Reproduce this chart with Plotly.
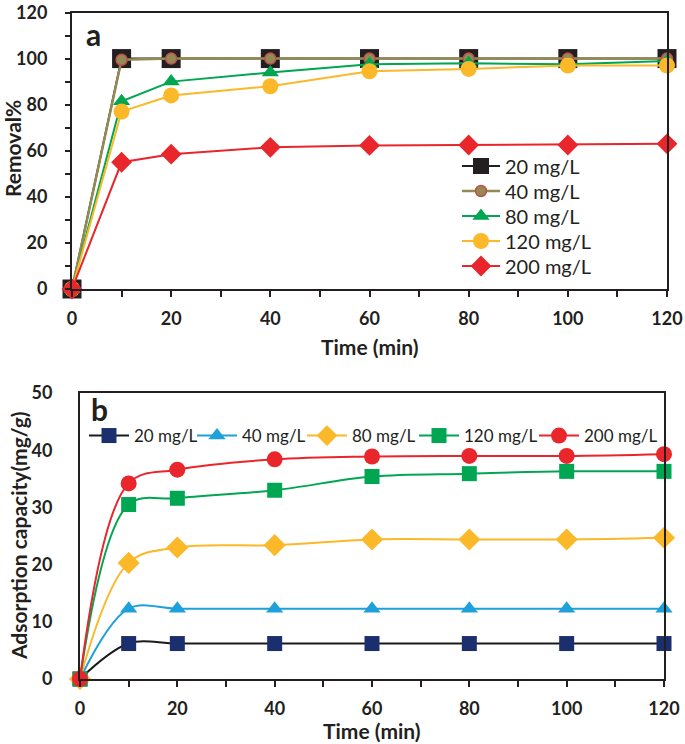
import plotly.graph_objects as go

time_min = [0, 10, 20, 40, 60, 80, 100, 120]

# Panel a: Removal %
removal_labels = ["20 mg/L", "40 mg/L", "80 mg/L", "120 mg/L", "200 mg/L"]
removal_20 = [0, 100, 100, 100, 100, 100, 100, 100]
removal_40 = [0, 99.5, 100, 100, 100, 100, 100, 100]
removal_80 = [0, 81.5, 90, 94, 97.5, 98, 97.5, 99]
removal_120 = [0, 77, 84, 88, 94.5, 95.5, 97, 97]
removal_200 = [0, 55, 58.5, 61.5, 62.3, 62.5, 62.5, 63]

# Panel b: Adsorption capacity (mg/g)
cap_labels = ["20 mg/L", "40 mg/L", "80 mg/L", "120 mg/L", "200 mg/L"]
cap_20 = [0, 6.2, 6.2, 6.2, 6.2, 6.2, 6.2, 6.2]
cap_40 = [0, 12.3, 12.3, 12.3, 12.3, 12.3, 12.3, 12.3]
cap_80 = [0, 20.3, 23.0, 23.4, 24.4, 24.4, 24.4, 24.7]
cap_120 = [0, 30.5, 31.6, 33.0, 35.4, 35.9, 36.3, 36.3]
cap_200 = [0, 34.2, 36.6, 38.4, 38.9, 39.0, 39.0, 39.3]

tick_vals_x = [0, 20, 40, 60, 80, 100, 120]
tick_vals_a = [0, 20, 40, 60, 80, 100, 120]
tick_vals_b = [0, 10, 20, 30, 40, 50]

FONT = "Lato, 'Open Sans', Arial, sans-serif"
INK = "#231f20"
W, H = 685, 744

fig = go.Figure()

# ---- panel a traces
styles_a = [
    dict(line=dict(color=INK, width=2),
         marker=dict(symbol="square", size=19, color=INK)),
    dict(line=dict(color="#948a54", width=2.5),
         marker=dict(symbol="circle", size=11, color="#948a54",
                     line=dict(color="#c0504d", width=1.5))),
    dict(line=dict(color="#00a651", width=2),
         marker=dict(symbol="triangle-up", size=15, color="#00a651")),
    dict(line=dict(color="#fbb829", width=2),
         marker=dict(symbol="circle", size=16, color="#fbb829")),
    dict(line=dict(color="#e8262b", width=2),
         marker=dict(symbol="diamond", size=16, color="#e8262b")),
]
legend_names_a = ["legend", "legend2", "legend3", "legend4", "legend5"]
for lab, ys, st, lg in zip(removal_labels,
                           [removal_20, removal_40, removal_80, removal_120, removal_200],
                           styles_a, legend_names_a):
    fig.add_trace(go.Scatter(x=time_min, y=ys, name=lab, mode="lines+markers",
                             xaxis="x", yaxis="y", legend=lg,
                             cliponaxis=False, **st))

# ---- panel b traces
styles_b = [
    dict(line=dict(color="#1a1a1a", width=2, shape="spline"),
         marker=dict(symbol="square", size=15, color="#1b2f6e")),
    dict(line=dict(color="#1ea0da", width=2, shape="spline"),
         marker=dict(symbol="triangle-up", size=15, color="#1ea0da")),
    dict(line=dict(color="#fbb829", width=2, shape="spline"),
         marker=dict(symbol="diamond", size=17, color="#fbb829")),
    dict(line=dict(color="#00a651", width=2, shape="spline"),
         marker=dict(symbol="square", size=15, color="#00a651")),
    dict(line=dict(color="#e8262b", width=2, shape="spline"),
         marker=dict(symbol="circle", size=16, color="#e8262b")),
]
legend_names_b = ["legend6", "legend7", "legend8", "legend9", "legend10"]
for lab, ys, st, lg in zip(cap_labels, [cap_20, cap_40, cap_80, cap_120, cap_200],
                           styles_b, legend_names_b):
    fig.add_trace(go.Scatter(x=time_min, y=ys, name=lab, mode="lines+markers",
                             xaxis="x2", yaxis="y2", legend=lg,
                             cliponaxis=False, **st))

axis_common = dict(showline=True, linecolor=INK, linewidth=2, mirror=True,
                   showgrid=False, zeroline=False, automargin=False,
                   tickfont=dict(family=FONT, size=18, color=INK, weight="bold"))

layout = dict(
    width=W, height=H,
    margin=dict(l=0, r=0, t=0, b=0, autoexpand=False),
    paper_bgcolor="white", plot_bgcolor="white",
    font=dict(family=FONT, color=INK),
    showlegend=True,
    xaxis=dict(domain=[72 / W, 667 / W], anchor="y", range=[0, 120],
               tickvals=tick_vals_x,
               ticks="outside", ticklen=6, tickwidth=1.5, tickcolor=INK,
               minor=dict(dtick=10, tick0=0, ticks="outside", ticklen=6, tickwidth=1.5,
                          tickcolor=INK),
               ticklabelstandoff=6, **axis_common),
    yaxis=dict(domain=[1 - 289 / H, 1 - 12.5 / H], anchor="x", range=[0, 120],
               tickvals=tick_vals_a,
               ticks="outside", ticklen=5, tickwidth=1.5, tickcolor=INK,
               minor=dict(dtick=10, tick0=0, ticks="outside", ticklen=5, tickwidth=1.5,
                          tickcolor=INK),
               ticklabelstandoff=14, **axis_common),
    xaxis2=dict(domain=[80 / W, 664 / W], anchor="y2", range=[0, 120],
                tickvals=tick_vals_x,
                ticks="outside", ticklen=6, tickwidth=1.5, tickcolor=INK,
                minor=dict(dtick=10, tick0=0, ticks="outside", ticklen=6, tickwidth=1.5,
                           tickcolor=INK),
                ticklabelstandoff=6, **axis_common),
    yaxis2=dict(domain=[1 - 679 / H, 1 - 393 / H], anchor="x2", range=[0, 50],
                tickvals=tick_vals_b,
                ticks="", ticklabelstandoff=22, **axis_common),
)

# one small legend per series so each row sits exactly where the reference has it
rows_a = [166, 191, 216, 241, 266]
for lg, yc in zip(legend_names_a, rows_a):
    layout[lg] = dict(x=457 / W, y=1 - yc / H, xanchor="left", yanchor="middle",
                      bgcolor="rgba(0,0,0,0)", borderwidth=0, itemwidth=38,
                      font=dict(family=FONT, size=20, color=INK))
cols_b = [84, 192, 302, 414, 534]
for lg, xl in zip(legend_names_b, cols_b):
    layout[lg] = dict(x=xl / W, y=1 - 436 / H, xanchor="left", yanchor="middle",
                      bgcolor="rgba(0,0,0,0)", borderwidth=0, itemwidth=40,
                      font=dict(family=FONT, size=17, color=INK))

title_font = dict(family=FONT, size=21, color=INK, weight="bold")
layout["annotations"] = [
    dict(text="a", x=84 / W, y=1 - 34 / H, xref="paper", yref="paper",
         xanchor="left", yanchor="middle", showarrow=False,
         font=dict(family=FONT, size=30, color=INK, weight="bold")),
    dict(text="b", x=89 / W, y=1 - 409 / H, xref="paper", yref="paper",
         xanchor="left", yanchor="middle", showarrow=False,
         font=dict(family=FONT, size=30, color=INK, weight="bold")),
    dict(text="Time (min)", x=370 / W, y=1 - 347 / H, xref="paper", yref="paper",
         xanchor="center", yanchor="middle", showarrow=False, font=title_font),
    dict(text="Time (min)", x=372 / W, y=1 - 730 / H, xref="paper", yref="paper",
         xanchor="center", yanchor="middle", showarrow=False, font=title_font),
    dict(text="Removal%", x=13 / W, y=1 - 149 / H, xref="paper", yref="paper",
         xanchor="center", yanchor="middle", showarrow=False, textangle=-90,
         font=title_font),
    dict(text="Adsorption capacity(mg/g)", x=18 / W, y=1 - 536 / H, xref="paper",
         yref="paper", xanchor="center", yanchor="middle", showarrow=False,
         textangle=-90, font=title_font),
]

fig.update_layout(**layout)
fig.write_html("out.html",
               config={"displayModeBar": False},
               post_script="document.body.style.margin='0';document.body.style.overflow='hidden';")
